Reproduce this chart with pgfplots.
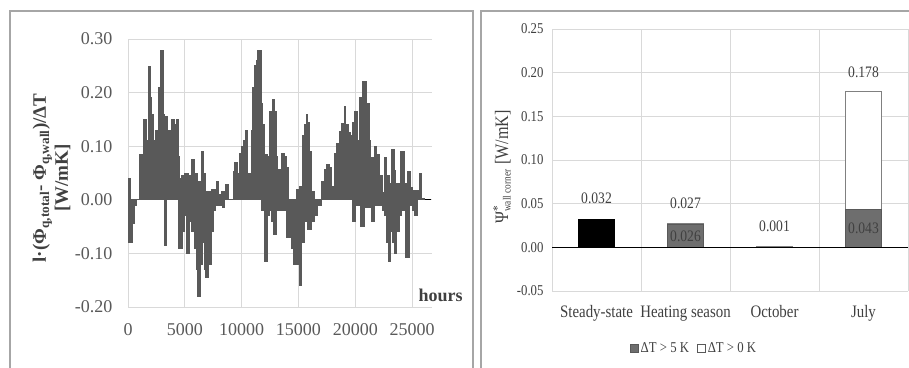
\documentclass[border=0pt]{standalone}
\usepackage{pgfplots}
\pgfplotsset{compat=1.18}
\usepackage{fontspec}
\setmainfont{Liberation Serif}
\newfontfamily\cond{Liberation Serif}[FakeStretch=0.85]
\definecolor{series}{HTML}{595959}
\definecolor{gridc}{HTML}{D9D9D9}
\definecolor{tickc}{HTML}{595959}
\definecolor{barg}{HTML}{6E6E6E}
\definecolor{framec}{HTML}{A6A6A6}
\definecolor{txt}{HTML}{404040}
\pgfplotsset{sqleg/.style={legend image code/.code={\draw[##1,line width=0.7pt] (0pt,-4pt) rectangle (8pt,4pt);}}}

\begin{document}
\begin{tikzpicture}[x=1pt,y=1pt]
% panel frames
\draw[framec, line width=1.6pt] (10,-5) -- (10,356) -- (473,356) -- (473,-5);
\draw[framec, line width=1.6pt] (481,-5) -- (481,356) -- (915,356);

% ---------------- left panel ----------------
\begin{axis}[
  at={(128pt,60pt)}, anchor=south west,
  scale only axis, width=304pt, height=268pt,
  xmin=0, xmax=26750, ymin=-0.2, ymax=0.3,
  xtick={0,5000,10000,15000,20000,25000},
  ytick={-0.2,-0.1,0,0.1,0.2,0.3},
  scaled ticks=false,
  axis line style={draw=none}, major tick length=0pt,
  grid=major, major grid style={gridc, line width=0.8pt},
  /pgf/number format/assume math mode=true,
  tick label style={font=\fontsize{18}{20}\selectfont, text=tickc},
  yticklabel style={/pgf/number format/fixed, /pgf/number format/fixed zerofill, /pgf/number format/precision=2, xshift=-12pt},
  xticklabel style={/pgf/number format/fixed, /pgf/number format/1000 sep={}, yshift=-13pt},
]
\addplot[black, line width=1.2pt, forget plot] coordinates {(0,0) (26650,0)};
\addplot[const plot, fill=series, draw=series, line width=1pt] coordinates {
(0,0.04) (230,0) (1050,0.085) (1320,0.15) (1640,0.11) (1770,0.248) (1960,0.19)
(2050,0.16) (2280,0.11) (2400,0.13) (2650,0.21) (2870,0.278) (3100,0.16)
(3250,0.155) (3500,0.12) (3600,0.13) (3850,0.15) (4100,0.14) (4250,0.15)
(4400,0.08) (4560,0.04) (4700,0.045) (5000,0.05) (5300,0.045) (5585,0.075)
(5880,0.05) (6100,0.035) (6460,0.09) (6670,0.05) (6800,0.015) (7370,0.02)
(7780,0.035) (7930,0.01) (8200,0.015) (8550,0.028) (8800,0) (9240,0.053)
(9390,0.069) (9620,0.05) (9820,0.087) (9970,0.1) (10120,0.11) (10320,0.13)
(10500,0.05) (10850,0.13) (10990,0.21) (11140,0.25) (11290,0.26) (11430,0.278)
(11720,0.18) (11870,0.14) (12020,0.084) (12250,0.08) (12460,0.165) (12690,0.187)
(12900,0.165) (13040,0.08) (13190,0.056) (13540,0.087) (13770,0.08) (13920,0.06)
(14120,0) (14800,0.02) (15080,0.025) (15380,0.12) (15530,0.14) (15670,0.16)
(15820,0.145) (15970,0.09) (16170,0.015) (16400,0) (16990,0.035) (17280,0.056)
(17430,0.065) (17720,0.06) (17870,0.025) (18160,0.087) (18390,0.105) (18600,0.127)
(18800,0.143) (19040,0.174) (19180,0.14) (19390,0.125) (19560,0.12) (19770,0.145)
(19970,0.165) (20200,0.11) (20350,0.19) (20640,0.22) (21020,0.18) (21230,0.11)
(21370,0.078) (21670,0.1) (21900,0.084) (22100,0.045) (22400,0.013) (22540,0.078)
(22780,0.045) (22980,0.03) (23190,0.093) (23420,0.055) (23570,0.03) (24000,0.09)
(24300,0.03) (24590,0.053) (24820,0.023) (25030,0.018) (25610,0.05) (25820,0.003)
(26050,0) (26100,0)
} \closedcycle;
\addplot[const plot, fill=series, draw=series, line width=1pt] coordinates {
(0,-0.06) (60,-0.08) (400,-0.045) (560,-0.01) (760,0) (3250,-0.085) (3400,0)
(4450,-0.09) (4800,-0.06) (5000,-0.03) (5150,-0.1) (5440,-0.04) (5600,-0.06)
(5850,-0.09) (6000,-0.13) (6150,-0.18) (6400,-0.12) (6550,-0.08) (6700,-0.13)
(6850,-0.145) (7050,-0.1) (7130,-0.12) (7340,-0.06) (7500,-0.02) (7700,-0.01)
(8300,-0.015) (8500,0) (11720,-0.02) (12020,-0.115) (12250,-0.03) (12460,-0.02)
(12600,-0.04) (12800,-0.065) (13040,-0.02) (13540,-0.02) (13920,-0.07) (14200,-0.07)
(14370,-0.09) (14560,-0.12) (15050,-0.16) (15300,-0.08) (15530,-0.04) (15670,-0.03)
(15820,-0.055) (16170,-0.04) (16400,-0.03) (16700,-0.01) (17000,0) (19770,-0.04)
(20050,-0.01) (20500,-0.05) (20800,-0.015) (21300,-0.005) (21450,-0.04) (21670,-0.01)
(22400,-0.02) (22600,-0.03) (22780,-0.08) (22900,-0.115) (23070,-0.06) (23280,-0.08)
(23420,-0.1) (23650,-0.06) (23860,-0.03) (24100,-0.02) (24450,-0.107) (24740,-0.01)
(25000,-0.02) (25170,-0.03) (25470,0) (26100,0)
} \closedcycle;
\end{axis}
\node[rotate=90, align=center, font=\bfseries\fontsize{19}{22}\selectfont, text=txt] at (51.5,189)
  {l·(Φ\textsubscript{q,total}- Φ\textsubscript{q,wall})/ΔT\\{}[W/mK]};
\node[anchor=west, font=\bfseries\fontsize{18}{20}\selectfont, text=txt] at (415,72) {hours};

% ---------------- right panel ----------------
\begin{axis}[
  at={(552pt,76pt)}, anchor=south west,
  scale only axis, width=356pt, height=262pt,
  xmin=-0.5, xmax=3.5, ymin=-0.05, ymax=0.25,
  xtick={0,1,2,3}, xticklabels={Steady-state, Heating season, October, July},
  minor xtick={-0.5,0.5,1.5,2.5,3.5},
  ytick={-0.05,0,0.05,0.1,0.15,0.2,0.25},
  scaled ticks=false, clip=false,
  axis line style={draw=none}, major tick length=0pt, minor tick length=0pt,
  ymajorgrids, xminorgrids,
  major grid style={gridc, line width=0.8pt}, minor grid style={gridc, line width=0.8pt},
  /pgf/number format/assume math mode=true,
  yticklabel style={font=\cond\fontsize{15}{17}\selectfont, text=txt, /pgf/number format/fixed, /pgf/number format/fixed zerofill, /pgf/number format/precision=2, xshift=-5pt},
  xticklabel style={font=\cond\fontsize{17.5}{19}\selectfont, text=txt, yshift=-11pt},
  legend style={at={(0.399,-0.2176)}, anchor=center, draw=none, fill=none,
    legend columns=2, font=\cond\fontsize{15}{17}\selectfont, text=txt,
    /tikz/every even column/.append style={column sep=6pt}},
]
\addlegendimage{sqleg, fill=barg, draw=series}
\addlegendentry{ΔT > 5 K}
\addlegendimage{sqleg, fill=white, draw=series}
\addlegendentry{ΔT > 0 K}
\addplot[ybar, bar width=36pt, bar shift=0pt, fill=white, draw=gray, line width=0.9pt, forget plot]
  coordinates {(1,0.027) (2,0.001) (3,0.178)};
\addplot[ybar, bar width=36pt, bar shift=0pt, fill=barg, draw=series, line width=0.9pt, forget plot]
  coordinates {(1,0.026) (3,0.043)};
\addplot[ybar, bar width=36pt, bar shift=0pt, fill=black, draw=black, line width=0.9pt, forget plot]
  coordinates {(0,0.032)};
\draw[black, line width=1.2pt] (axis cs:-0.5,0) -- (axis cs:3.5,0);
\begin{scope}[every node/.style={font=\cond\fontsize{16}{18}\selectfont, text=txt}]
\node at (axis cs:0,0.056) {0.032};
\node at (axis cs:1,0.051) {0.027};
\node at (axis cs:1,0.0125) {0.026};
\node at (axis cs:2,0.024) {0.001};
\node at (axis cs:3,0.0215) {0.043};
\node at (axis cs:3,0.2) {0.178};
\end{scope}
\end{axis}
\node[rotate=90, font=\cond\fontsize{19}{21}\selectfont, text=txt] at (502,200)
  {Ψ\rlap{\textsuperscript{*}}\textsubscript{\fontsize{11}{11}\selectfont wall corner} [W/mK]};

\pgfresetboundingbox
\useasboundingbox (0,0) rectangle (909,367);
\end{tikzpicture}
\end{document}
